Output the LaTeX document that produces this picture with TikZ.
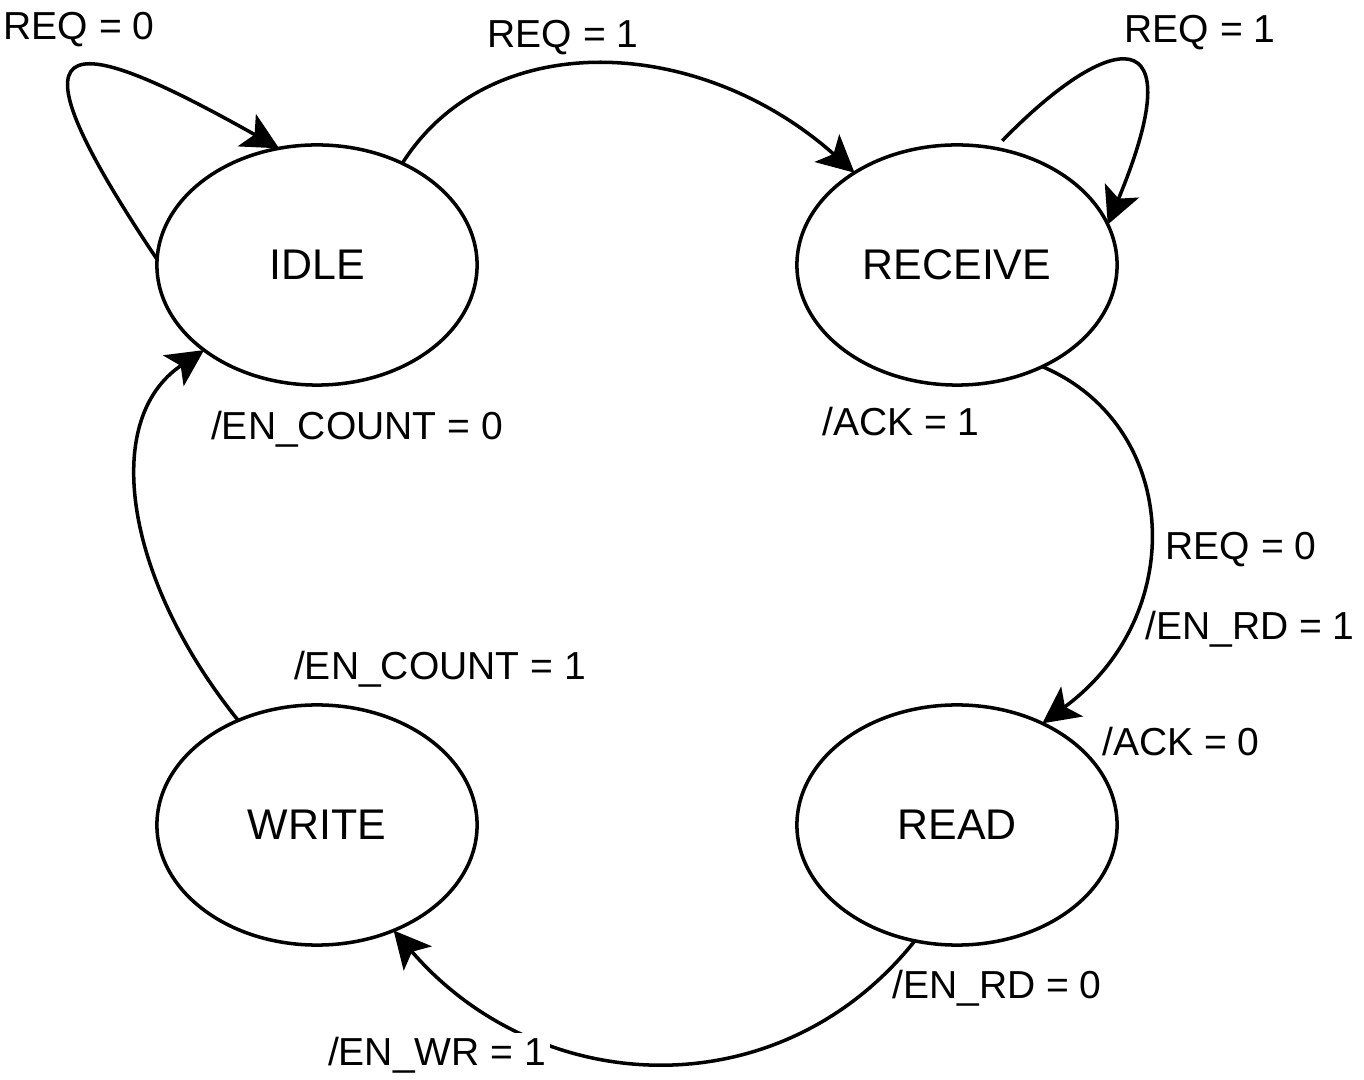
\documentclass[tikz,border=0pt]{standalone}
\usepackage{fontspec}
\setmainfont{Liberation Sans}
\usetikzlibrary{arrows.meta,shapes.geometric}

\tikzset{
	state/.style = {draw, ellipse, line width = 1pt, minimum width = 3.2cm, minimum height = 2.4cm, inner sep = 0, outer sep = 0, font = \fontsize{12.2}{14}\selectfont},
	edge/.style = {line width = 1pt, -{Stealth[length = 10.5pt, width = 10.5pt, inset = 2.5pt]}},
	lbl/.style = {anchor = base, inner sep = 1pt, font = \fontsize{11.1}{13}\selectfont}
}

\begin{document}
\begin{tikzpicture}[x = 0.01cm, y = -0.01cm]
	
		\useasboundingbox (0, 0) rectangle (1364, 1080);
		
		\node[state] (idle) at (317, 265) {IDLE};
		\node[state] (receive) at (957, 265) {RECEIVE};
		\node[state] (write) at (317, 825) {WRITE};
		\node[state] (read) at (957, 825) {READ};
		
		\draw[edge] (idle.178) .. controls (0, 25) and (60, 25) .. (idle.108);
		\draw[edge] (idle.50) .. controls (490, 25) and (700, 35) .. (receive.138);
		\draw[edge, shorten <= 3pt] (receive.72) .. controls (1110, 30) and (1195, 15) .. (receive.15);
		\draw[edge] (receive.-50) .. controls (1180, 425) and (1190, 615) .. (read.50);
		\draw[edge] (read.-110) .. controls (780, 1110) and (540, 1100) .. (write.-54);
		\draw[edge] (write.127) .. controls (125, 580) and (100, 420) .. (idle.217);
		
		\node[lbl] (l_idle) at (79, 40) {REQ = 0};
		\node[lbl] (l_go) at (563, 48) {REQ = 1};
		\node[lbl] (l_recv) at (1200, 43) {REQ = 1};
		\node[lbl] (o_idle) at (357, 440) {/EN\_COUNT = 0};
		\node[lbl] (o_recv) at (901, 436) {/ACK = 1};
		\node[lbl] (l_read) at (1241, 560) {REQ = 0};
		\node[lbl] (o_rd1) at (1250, 640) {/EN\_RD = 1};
		\node[lbl] (o_ack) at (1181, 755) {/ACK = 0};
		\node[lbl] (o_cnt) at (440, 680) {/EN\_COUNT = 1};
		\node[lbl] (o_rd0) at (997, 998) {/EN\_RD = 0};
		\node[lbl, fill = white] (o_wr) at (437, 1065) {/EN\_WR = 1};
		
	\end{tikzpicture}
\end{document}
